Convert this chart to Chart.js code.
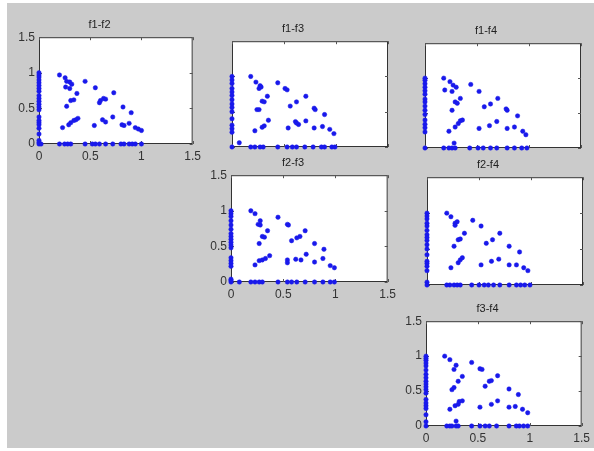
<!DOCTYPE html>
<html>
<head>
<meta charset="utf-8">
<script src="https://cdn.jsdelivr.net/npm/chart.js@4.4.1/dist/chart.umd.min.js"></script>
<style>
  html, body { margin: 0; padding: 0; background: #fff; }
  body { width: 594px; height: 451px; position: relative; overflow: hidden; }
  #panel { position: absolute; left: 7px; top: 3px; width: 587px; height: 445px; background: #cbcbcb; }
  canvas { position: absolute; }
</style>
</head>
<body>
<div id="panel"></div>

<script>
// axis ticks shared by every subplot
const tickValues = [0, 0.5, 1, 1.5];
const tickLabels = ['0', '0.5', '1', '1.5'];

// f1-f2
const f1f2AxisY = [1, 0.97, 0.94, 0.9, 0.86, 0.82, 0.78, 0.74, 0.68, 0.64, 0.6, 0.56, 0.52, 0.48, 0.38, 0.33, 0.3, 0.27, 0.22, 0.14, 0.05, 0.02, 0];
const f1f2AxisX = [0.02, 0.2, 0.25, 0.28, 0.31, 0.45, 0.52, 0.55, 0.59, 0.65, 0.72, 0.8, 0.83, 0.88, 0.91, 0.94, 1.0];
const f1f2InX = [0.2, 0.255, 0.27, 0.3, 0.32, 0.26, 0.3, 0.37, 0.31, 0.34, 0.27, 0.45, 0.55, 0.73, 0.59, 0.6, 0.63, 0.65, 0.82, 0.9, 0.23, 0.29, 0.31, 0.34, 0.36, 0.38, 0.54, 0.62, 0.65, 0.72, 0.81, 0.83, 0.88, 0.94, 0.97, 1.0];
const f1f2InY = [0.97, 0.93, 0.88, 0.87, 0.84, 0.8, 0.78, 0.71, 0.61, 0.62, 0.53, 0.88, 0.79, 0.72, 0.58, 0.61, 0.64, 0.63, 0.52, 0.44, 0.23, 0.27, 0.3, 0.33, 0.34, 0.36, 0.26, 0.34, 0.31, 0.38, 0.27, 0.26, 0.29, 0.23, 0.21, 0.19];

// f1-f3
const f1f3AxisY = [1, 0.95, 0.9, 0.83, 0.78, 0.73, 0.67, 0.61, 0.56, 0.5, 0.4, 0.31, 0.26, 0.21, 0];
const f1f3AxisX = [0.18, 0.22, 0.27, 0.3, 0.44, 0.53, 0.58, 0.62, 0.7, 0.78, 0.86, 0.89, 0.96, 0.99];
const f1f3InX = [0.18, 0.23, 0.27, 0.26, 0.28, 0.34, 0.29, 0.31, 0.24, 0.26, 0.44, 0.51, 0.53, 0.71, 0.56, 0.62, 0.79, 0.8, 0.89, 0.07, 0.22, 0.29, 0.31, 0.35, 0.54, 0.61, 0.64, 0.62, 0.71, 0.79, 0.87, 0.94, 0.98];
const f1f3InY = [1.0, 0.92, 0.87, 0.83, 0.85, 0.72, 0.65, 0.64, 0.53, 0.53, 0.91, 0.83, 0.81, 0.72, 0.58, 0.64, 0.55, 0.53, 0.46, 0.06, 0.23, 0.28, 0.3, 0.38, 0.27, 0.36, 0.32, 0.34, 0.37, 0.27, 0.29, 0.25, 0.19];

// f1-f4
const f1f4AxisY = [1, 0.97, 0.92, 0.87, 0.82, 0.77, 0.7, 0.66, 0.6, 0.54, 0.48, 0.4, 0.34, 0.29, 0.23, 0];
const f1f4AxisX = [0.18, 0.23, 0.26, 0.29, 0.43, 0.51, 0.56, 0.63, 0.69, 0.79, 0.86, 0.93, 0.98];
const f1f4InX = [0.18, 0.24, 0.19, 0.26, 0.27, 0.3, 0.44, 0.52, 0.34, 0.29, 0.31, 0.26, 0.7, 0.63, 0.57, 0.78, 0.79, 0.89, 0.23, 0.29, 0.32, 0.34, 0.36, 0.52, 0.62, 0.69, 0.79, 0.86, 0.94, 0.97, 0.28];
const f1f4InY = [1.0, 0.95, 0.83, 0.81, 0.9, 0.87, 0.91, 0.81, 0.71, 0.66, 0.64, 0.54, 0.71, 0.63, 0.59, 0.56, 0.54, 0.46, 0.24, 0.3, 0.35, 0.39, 0.4, 0.28, 0.32, 0.38, 0.28, 0.3, 0.24, 0.19, 0.07];

// f2-f3
const f2f3AxisY = [1, 0.96, 0.92, 0.86, 0.8, 0.74, 0.68, 0.64, 0.6, 0.56, 0.52, 0.48, 0.34, 0.3, 0.26, 0.22, 0.04, 0.02, 0];
const f2f3AxisX = [0.08, 0.19, 0.23, 0.27, 0.3, 0.45, 0.54, 0.58, 0.63, 0.71, 0.8, 0.88, 0.95, 0.99];
const f2f3InX = [0.19, 0.23, 0.28, 0.26, 0.28, 0.35, 0.3, 0.32, 0.27, 0.45, 0.54, 0.55, 0.71, 0.58, 0.63, 0.66, 0.8, 0.89, 0.23, 0.27, 0.3, 0.33, 0.37, 0.54, 0.54, 0.62, 0.67, 0.72, 0.8, 0.88, 0.95, 0.99];
const f2f3InY = [1.0, 0.96, 0.86, 0.81, 0.8, 0.72, 0.64, 0.63, 0.54, 0.91, 0.81, 0.8, 0.72, 0.58, 0.62, 0.64, 0.54, 0.46, 0.24, 0.3, 0.31, 0.33, 0.37, 0.31, 0.27, 0.32, 0.31, 0.39, 0.28, 0.33, 0.23, 0.2];

// f2-f4
const f2f4AxisY = [1, 0.96, 0.92, 0.86, 0.82, 0.76, 0.7, 0.66, 0.62, 0.56, 0.5, 0.42, 0.33, 0.3, 0.26, 0.2, 0.04, 0];
const f2f4AxisX = [0.19, 0.22, 0.26, 0.29, 0.32, 0.43, 0.5, 0.55, 0.59, 0.64, 0.7, 0.79, 0.86, 0.9, 0.94, 0.99];
const f2f4InX = [0.19, 0.23, 0.27, 0.29, 0.27, 0.36, 0.3, 0.32, 0.26, 0.44, 0.52, 0.7, 0.57, 0.63, 0.79, 0.89, 0.23, 0.3, 0.32, 0.34, 0.52, 0.62, 0.69, 0.79, 0.86, 0.93, 0.97];
const f2f4InY = [1.0, 0.95, 0.86, 0.88, 0.83, 0.72, 0.63, 0.64, 0.54, 0.9, 0.82, 0.72, 0.58, 0.63, 0.54, 0.46, 0.24, 0.31, 0.35, 0.38, 0.28, 0.33, 0.36, 0.28, 0.28, 0.24, 0.2];

// f3-f4
const f3f4AxisY = [1, 0.97, 0.94, 0.9, 0.86, 0.8, 0.74, 0.69, 0.64, 0.6, 0.56, 0.52, 0.47, 0.38, 0.33, 0.29, 0.25, 0.16, 0.06, 0];
const f3f4AxisX = [0.2, 0.23, 0.25, 0.29, 0.31, 0.44, 0.52, 0.57, 0.61, 0.68, 0.8, 0.87, 0.9, 0.94, 0.98];
const f3f4InX = [0.18, 0.23, 0.29, 0.27, 0.35, 0.31, 0.25, 0.27, 0.44, 0.52, 0.54, 0.69, 0.57, 0.61, 0.63, 0.8, 0.89, 0.23, 0.28, 0.31, 0.32, 0.35, 0.52, 0.63, 0.69, 0.8, 0.86, 0.93, 0.98, 0.29];
const f3f4InY = [1.0, 0.95, 0.87, 0.81, 0.71, 0.64, 0.52, 0.55, 0.91, 0.82, 0.81, 0.72, 0.57, 0.64, 0.65, 0.53, 0.45, 0.24, 0.29, 0.31, 0.35, 0.36, 0.27, 0.31, 0.36, 0.27, 0.28, 0.24, 0.19, 0.07];

const subplots = [
  { title: 'f1-f2', box: [39, 37, 194, 144], labels: true, axisY: f1f2AxisY, axisX: f1f2AxisX, inX: f1f2InX, inY: f1f2InY },
  { title: 'f1-f3', box: [232, 41, 388, 147], labels: false, axisY: f1f3AxisY, axisX: f1f3AxisX, inX: f1f3InX, inY: f1f3InY },
  { title: 'f1-f4', box: [425, 43, 581, 148], labels: false, axisY: f1f4AxisY, axisX: f1f4AxisX, inX: f1f4InX, inY: f1f4InY },
  { title: 'f2-f3', box: [231, 175, 389, 282], labels: true, axisY: f2f3AxisY, axisX: f2f3AxisX, inX: f2f3InX, inY: f2f3InY },
  { title: 'f2-f4', box: [427, 177, 583, 285], labels: false, axisY: f2f4AxisY, axisX: f2f4AxisX, inX: f2f4InX, inY: f2f4InY },
  { title: 'f3-f4', box: [426, 321, 583, 426], labels: true, axisY: f3f4AxisY, axisX: f3f4AxisX, inX: f3f4InX, inY: f3f4InY }
];

// margins around the plot box inside each canvas
const M_LEFT = 34, M_TOP = 22, M_RIGHT = 12, M_BOTTOM = 22;

// MATLAB style frame: white axes area, full box with short inward ticks on all four sides
const framePlugin = {
  id: 'frame',
  beforeDraw(chart) {
    const { ctx, chartArea: a } = chart;
    ctx.save();
    ctx.fillStyle = '#fff';
    ctx.fillRect(a.left, a.top, a.right - a.left, a.bottom - a.top);
    ctx.restore();
  },
  beforeDatasetsDraw(chart) {
    const { ctx, chartArea: a, scales } = chart;
    ctx.save();
    ctx.strokeStyle = '#333';
    ctx.lineWidth = 1;
    ctx.strokeRect(a.left + 0.5, a.top + 0.5, a.right - a.left - 1, a.bottom - a.top - 1);
    ctx.strokeStyle = '#555';
    ctx.beginPath();
    tickValues.forEach(v => {
      const px = Math.round(scales.x.getPixelForValue(v)) + 0.5;
      ctx.moveTo(px, a.bottom); ctx.lineTo(px, a.bottom - 3);
      ctx.moveTo(px, a.top); ctx.lineTo(px, a.top + 3);
      const py = Math.round(scales.y.getPixelForValue(v)) + 0.5;
      ctx.moveTo(a.left, py); ctx.lineTo(a.left + 3, py);
      ctx.moveTo(a.right, py); ctx.lineTo(a.right - 3, py);
    });
    ctx.stroke();
    ctx.restore();
  }
};

function axisOptions(showLabels, isX) {
  return {
    type: 'linear',
    min: 0,
    max: 1.5,
    afterBuildTicks: scale => { scale.ticks = tickValues.map(v => ({ value: v })); },
    afterFit: scale => {
      if (isX) scale.height = M_BOTTOM; else scale.width = M_LEFT;
    },
    grid: { display: false, drawTicks: false },
    border: { display: false },
    ticks: {
      display: showLabels,
      padding: isX ? 5 : 4,
      autoSkip: false,
      maxRotation: 0,
      color: '#333',
      font: { family: 'Liberation Sans, Arial, sans-serif', size: 12 },
      callback: (value, i) => tickLabels[i]
    }
  };
}

subplots.forEach(sp => {
  const [l, t, r, b] = sp.box;
  const canvas = document.createElement('canvas');
  const w = (r - l) + M_LEFT + M_RIGHT;
  const h = (b - t) + M_TOP + M_BOTTOM;
  canvas.width = w;
  canvas.height = h;
  canvas.style.width = w + 'px';
  canvas.style.height = h + 'px';
  canvas.style.left = (l - M_LEFT) + 'px';
  canvas.style.top = (t - M_TOP) + 'px';
  document.body.appendChild(canvas);

  const points = []
    .concat(sp.axisY.map(y => ({ x: 0, y: y })))
    .concat(sp.axisX.map(x => ({ x: x, y: 0 })))
    .concat(sp.inX.map((x, i) => ({ x: x, y: sp.inY[i] })));

  new Chart(canvas, {
    type: 'scatter',
    data: {
      datasets: [{
        data: points,
        backgroundColor: 'rgb(25, 25, 235)',
        borderColor: 'rgb(25, 25, 235)',
        pointRadius: 2.2,
        pointBorderWidth: 0.5,
        clip: false
      }]
    },
    options: {
      responsive: false,
      animation: false,
      events: [],
      layout: { padding: { left: 0, top: 0, right: M_RIGHT, bottom: 0 } },
      plugins: {
        legend: { display: false },
        tooltip: { enabled: false },
        title: {
          display: true,
          text: sp.title,
          color: '#222',
          font: { family: 'Liberation Sans, Arial, sans-serif', size: 11, weight: 'normal', lineHeight: 1.2 },
          padding: { top: 3, bottom: 6 }
        }
      },
      scales: {
        x: axisOptions(sp.labels, true),
        y: axisOptions(sp.labels, false)
      }
    },
    plugins: [framePlugin]
  });
});
</script>
</body>
</html>
